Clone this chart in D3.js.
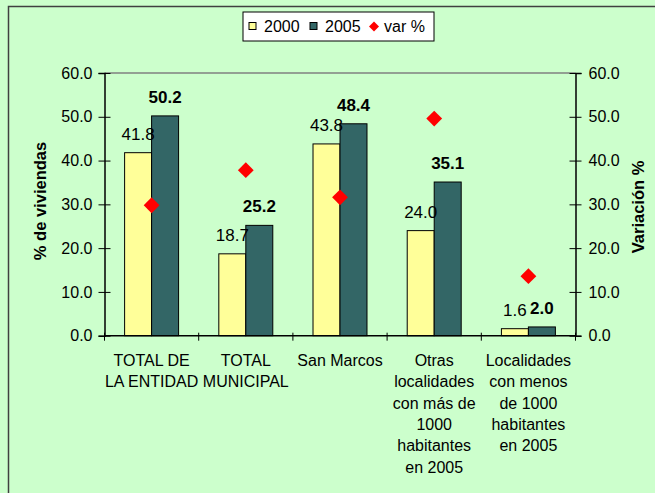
<!DOCTYPE html>
<html>
<head>
<meta charset="utf-8">
<script src="https://cdn.jsdelivr.net/npm/d3@7"></script>
<style>
  body { margin: 0; background: #ccffcc; }
  svg { display: block; font-family: "Liberation Sans", Arial, sans-serif; }
</style>
</head>
<body>
<div id="chart"></div>
<script>
// datos del grafico
const categorias = [
  ["TOTAL DE", "LA ENTIDAD"],
  ["TOTAL", "MUNICIPAL"],
  ["San Marcos"],
  ["Otras", "localidades", "con más de", "1000", "habitantes", "en 2005"],
  ["Localidades", "con menos", "de 1000", "habitantes", "en 2005"]
];
const series = ["2000", "2005"];
const valores2000 = [41.8, 18.7, 43.8, 24.0, 1.6];
const valores2005 = [50.2, 25.2, 48.4, 35.1, 2.0];
const variacion = [29.8, 37.8, 31.6, 49.6, 13.6];
const ticksY = [0, 10, 20, 30, 40, 50, 60];

const width = 655;
const height = 493;
const plotLeft = 104.5, plotRight = 575.5, plotTop = 73, plotBottom = 335.7;
const colores = { "2000": "#ffff99", "2005": "#336666" };

const svg = d3
  .select("#chart")
  .append("svg")
  .attr("width", width)
  .attr("height", height);

// fondo y borde del area del grafico
svg
  .append("rect")
  .attr("x", 8.5)
  .attr("y", 6.5)
  .attr("width", width + 10)
  .attr("height", height + 10)
  .attr("fill", "#ccffcc")
  .attr("stroke", "#404040")
  .attr("stroke-width", 1.5);

const idx = categorias.map((d, i) => i);
const x0 = d3.scaleBand().domain(idx).range([plotLeft, plotRight]).padding(0);
const bw = x0.bandwidth();
const x1 = d3
  .scaleBand()
  .domain(series)
  .range([bw * 0.2135, bw * 0.7865])
  .padding(0);
const y = d3.scaleLinear().domain([0, 60]).range([plotBottom, plotTop]);
const yVar = d3.scaleLinear().domain([0, 60]).range([plotBottom, plotTop]);

// borde del area de trazado (linea superior gris)
svg
  .append("line")
  .attr("x1", plotLeft)
  .attr("x2", plotRight)
  .attr("y1", y(60))
  .attr("y2", y(60))
  .attr("stroke", "#808080")
  .attr("stroke-width", 1.5);

// barras
const datos = idx.map((i) => ({ i, "2000": valores2000[i], "2005": valores2005[i] }));
const grupos = svg
  .selectAll(".grupo")
  .data(datos)
  .enter()
  .append("g")
  .attr("class", "grupo")
  .attr("transform", (d) => `translate(${x0(d.i)},0)`);

grupos
  .selectAll("rect")
  .data((d) => series.map((s) => ({ s, v: d[s] })))
  .enter()
  .append("rect")
  .attr("x", (d) => x1(d.s))
  .attr("y", (d) => y(d.v))
  .attr("width", x1.bandwidth())
  .attr("height", (d) => y(0) - y(d.v))
  .attr("fill", (d) => colores[d.s])
  .attr("stroke", "#000")
  .attr("stroke-width", 1);

// etiquetas de valores
grupos
  .selectAll(".lbl")
  .data((d) => series.map((s) => ({ s, v: d[s] })))
  .enter()
  .append("text")
  .attr("class", "lbl")
  .attr("x", (d) => x1(d.s) + x1.bandwidth() / 2)
  .attr("y", (d) => y(d.v) - 13)
  .attr("text-anchor", "middle")
  .style("font-size", "17px")
  .style("font-weight", (d) => (d.s === "2005" ? "bold" : "normal"))
  .attr("fill", "#000")
  .text((d) => d.v.toFixed(1));

// ejes
const yAxisL = svg
  .append("g")
  .attr("transform", `translate(${plotLeft},0)`)
  .call(d3.axisLeft(y).tickValues(ticksY).tickSize(6).tickFormat(d3.format(".1f")));
const yAxisR = svg
  .append("g")
  .attr("transform", `translate(${plotRight},0)`)
  .call(d3.axisRight(yVar).tickValues(ticksY).tickSize(6).tickFormat(d3.format(".1f")));

[yAxisL, yAxisR].forEach((g) => {
  g.select(".domain").attr("stroke", "#000").attr("stroke-width", 1.5);
  g.selectAll(".tick line")
    .attr("stroke", "#000")
    .attr("x1", -6)
    .attr("x2", 6);
  g.selectAll(".tick text")
    .style("font-size", "16px")
    .style("font-family", '"Liberation Sans", Arial, sans-serif')
    .attr("fill", "#000");
});
yAxisL.selectAll(".tick text").attr("x", -12);
yAxisR.selectAll(".tick text").attr("x", 13);

// eje x
svg
  .append("line")
  .attr("x1", plotLeft)
  .attr("x2", plotRight)
  .attr("y1", y(0))
  .attr("y2", y(0))
  .attr("stroke", "#000")
  .attr("stroke-width", 1.5);
svg
  .selectAll(".xtick")
  .data(idx.concat([idx.length]))
  .enter()
  .append("line")
  .attr("class", "xtick")
  .attr("x1", (d) => plotLeft + d * bw)
  .attr("x2", (d) => plotLeft + d * bw)
  .attr("y1", y(0) - 3)
  .attr("y2", y(0) + 5)
  .attr("stroke", "#000");

// etiquetas de categorias
const etiquetas = svg
  .selectAll(".xlbl")
  .data(categorias)
  .enter()
  .append("text")
  .attr("class", "xlbl")
  .attr("text-anchor", "middle")
  .style("font-size", "16px")
  .attr("fill", "#000");
etiquetas
  .selectAll("tspan")
  .data((d, i) => d.map((t) => ({ t, i })))
  .enter()
  .append("tspan")
  .attr("x", (d) => x0(d.i) + bw / 2)
  .attr("y", (d, j) => 366 + j * 21.3)
  .text((d) => d.t);

// rombos de variacion
svg
  .selectAll(".var")
  .data(variacion)
  .enter()
  .append("path")
  .attr("class", "var")
  .attr("d", d3.symbol(d3.symbolSquare, 125))
  .attr("transform", (d, i) => `translate(${x0(i) + bw / 2},${yVar(d)}) rotate(45)`)
  .attr("fill", "#ff0000");

// titulos de ejes
svg
  .append("text")
  .attr("transform", "translate(46,201) rotate(-90)")
  .attr("text-anchor", "middle")
  .style("font-size", "16.5px")
  .style("font-weight", "bold")
  .text("% de viviendas");
svg
  .append("text")
  .attr("transform", "translate(644,207) rotate(-90)")
  .attr("text-anchor", "middle")
  .style("font-size", "16.5px")
  .style("font-weight", "bold")
  .text("Variación %");

// leyenda
const ley = svg.append("g");
ley
  .append("rect")
  .attr("x", 243)
  .attr("y", 12)
  .attr("width", 191)
  .attr("height", 29)
  .attr("fill", "#fff")
  .attr("stroke", "#000")
  .attr("stroke-width", 1);
const itemsLey = [
  { nombre: "2000", x: 249, tipo: "rect", color: colores["2000"] },
  { nombre: "2005", x: 310, tipo: "rect", color: colores["2005"] },
  { nombre: "var %", x: 370, tipo: "diamond", color: "#ff0000" }
];
itemsLey.forEach((it) => {
  if (it.tipo === "rect") {
    ley
      .append("rect")
      .attr("x", it.x)
      .attr("y", 22.5)
      .attr("width", 7)
      .attr("height", 7)
      .attr("fill", it.color)
      .attr("stroke", "#000");
  } else {
    ley
      .append("path")
      .attr("d", d3.symbol(d3.symbolSquare, 50))
      .attr("transform", `translate(${it.x + 4},26.5) rotate(45)`)
      .attr("fill", it.color);
  }
  ley
    .append("text")
    .attr("x", it.x + (it.tipo === "rect" ? 15 : 14))
    .attr("y", 32)
    .style("font-size", "16px")
    .text(it.nombre);
});
</script>
</body>
</html>
